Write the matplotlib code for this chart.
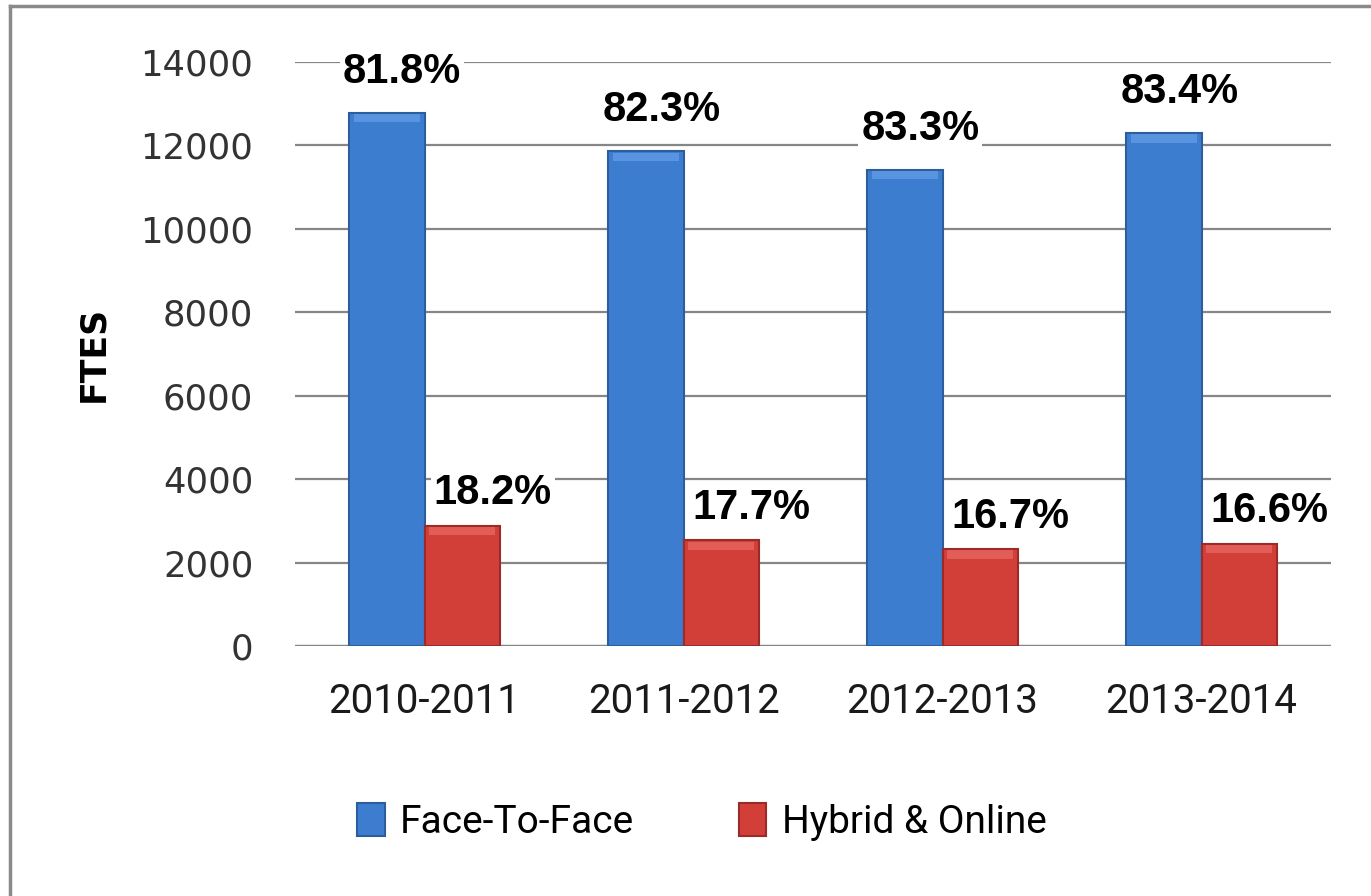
import numpy as np
from matplotlib import pyplot as plt
from matplotlib.lines import Line2D

## data
years = ['2010-2011', '2011-2012', '2012-2013', '2013-2014']
face_to_face = [12780, 11860, 11420, 12300]
hybrid_online = [2880, 2530, 2320, 2450]
face_pct = ['81.8%', '82.3%', '83.3%', '83.4%']
hybrid_pct = ['18.2%', '17.7%', '16.7%', '16.6%']

## colours
blue = '#3d7dd0'
blue_edge = '#2c5d9c'
blue_hi = '#6fa8ec'
red = '#d23f39'
red_edge = '#9c2b27'
red_hi = '#f07672'
grid_col = '#868686'

fig = plt.figure(figsize=(13.71, 8.96), dpi=100)
ax = fig.add_axes([295/1371, 1-646/896, (1331-295)/1371, (646-62)/896])

x = np.arange(len(years))
w = 0.29
b1 = ax.bar(x - w/2, face_to_face, w, color=blue, edgecolor=blue_edge, linewidth=1.5,
            label='Face-To-Face', zorder=3)
b2 = ax.bar(x + w/2, hybrid_online, w, color=red, edgecolor=red_edge, linewidth=1.5,
            label='Hybrid & Online', zorder=3)

## light bevel at the top of each bar
cap = 200
ax.bar(x - w/2, cap, w*0.88, bottom=np.array(face_to_face) - cap - 30,
       color=blue_hi, alpha=0.55, linewidth=0, zorder=3.5)
ax.bar(x + w/2, cap, w*0.88, bottom=np.array(hybrid_online) - cap - 30,
       color=red_hi, alpha=0.55, linewidth=0, zorder=3.5)

## data labels with white background so they cut the grid lines
for i in range(len(years)):
    ax.annotate(face_pct[i], (x[i] - w/2, face_to_face[i]), xytext=(11, 15),
                textcoords='offset points', ha='center', va='bottom',
                fontsize=30, fontweight='bold', family='Liberation Sans',
                bbox=dict(facecolor='white', edgecolor='none', pad=2), zorder=4)
    ax.annotate(hybrid_pct[i], (x[i] + w/2, hybrid_online[i]), xytext=(22, 9),
                textcoords='offset points', ha='center', va='bottom',
                fontsize=30, fontweight='bold', family='Liberation Sans',
                bbox=dict(facecolor='white', edgecolor='none', pad=2), zorder=4)

ax.set_xlim(-0.5, len(years) - 0.5)
ax.set_ylim(0, 14000)
ax.set_yticks(np.arange(0, 14001, 2000))
ax.yaxis.grid(True, color=grid_col, linewidth=1.6, zorder=0)
ax.set_axisbelow(True)
for s in ax.spines.values():
    s.set_visible(False)
ax.axhline(0, color=grid_col, linewidth=1.6, zorder=2)

ax.tick_params(axis='y', length=0, pad=30, labelsize=25.5, labelcolor='#333333')
ax.tick_params(axis='x', length=0, pad=26, labelsize=29, labelcolor='#1a1a1a')
ax.set_xticks(x)
ax.set_xticklabels(years, family='Roboto')
ax.set_ylabel('FTES', fontsize=25, fontweight='bold')
ax.yaxis.set_label_coords(-(295-110)/1036, 0.5)

fig.legend(handles=[b1, b2], loc='center', bbox_to_anchor=(702/1371, 1-822/896),
           ncol=2, frameon=False, prop={'family': 'Roboto', 'size': 28},
           handlelength=0.7, handleheight=0.9, handletextpad=0.4, columnspacing=2.7)

## outer frame of the picture (top and left only)
fig.add_artist(Line2D([10/1371, 10/1371], [0, 1-6/896], transform=fig.transFigure,
                      color='#8a8a8a', linewidth=2.5))
fig.add_artist(Line2D([10/1371, 1], [1-6/896, 1-6/896], transform=fig.transFigure,
                      color='#8a8a8a', linewidth=2.5))

plt.savefig('out.png', dpi=100)
